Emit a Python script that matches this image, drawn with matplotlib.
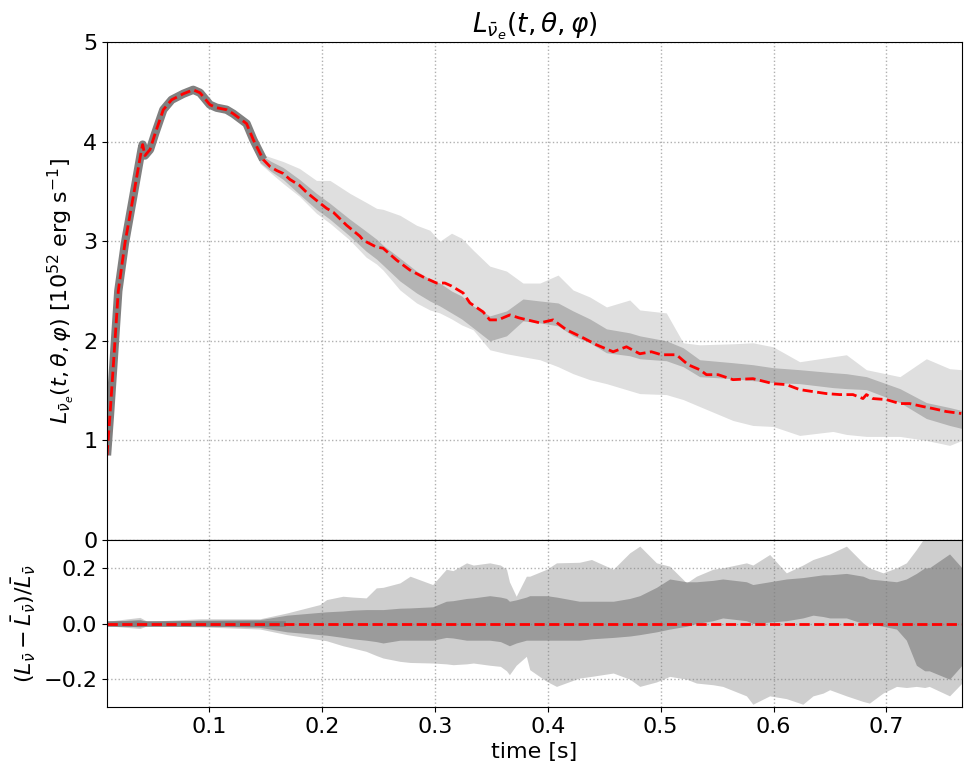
import numpy as np
import matplotlib
matplotlib.use("Agg")
import matplotlib.pyplot as plt

# ---------------- data ----------------
# angle-averaged luminosity (red dashed), 1e52 erg/s
t_mean = [0.0094, 0.012, 0.015, 0.0194, 0.0253, 0.0327, 0.040, 0.041, 0.043, 0.0475,
          0.052, 0.0593, 0.0667, 0.077, 0.0858, 0.0918, 0.1006, 0.1066, 0.1154, 0.1213,
          0.1331, 0.139, 0.1478, 0.1538, 0.1597, 0.1655, 0.1715, 0.18, 0.1863, 0.195,
          0.204, 0.21, 0.2217, 0.2335, 0.2364, 0.2483, 0.254, 0.266, 0.2778, 0.2896,
          0.3014, 0.3088, 0.3147, 0.325, 0.331, 0.3427, 0.3486, 0.356, 0.3664, 0.3745,
          0.393, 0.4047, 0.4166, 0.4313, 0.4431, 0.4579, 0.4697, 0.4815, 0.4918, 0.5007,
          0.514, 0.5243, 0.5346, 0.5406, 0.5509, 0.5641, 0.5818, 0.5996, 0.6114, 0.6232,
          0.6469, 0.6587, 0.6704, 0.6793, 0.6823, 0.6881, 0.70, 0.7118, 0.7206, 0.7324,
          0.7413, 0.7531, 0.7664]
L_mean = [0.85, 1.25, 1.75, 2.50, 2.98, 3.45, 3.92, 3.97, 3.86, 3.92,
          4.08, 4.32, 4.42, 4.48, 4.52, 4.49, 4.37, 4.34, 4.32, 4.28,
          4.18, 4.02, 3.82, 3.75, 3.71, 3.68, 3.62, 3.56, 3.49, 3.41,
          3.33, 3.29, 3.16, 3.05, 3.01, 2.94, 2.93, 2.81, 2.71, 2.64,
          2.58, 2.58, 2.55, 2.48, 2.38, 2.29, 2.21, 2.21, 2.26, 2.23,
          2.18, 2.21, 2.11, 2.03, 1.96, 1.89, 1.94, 1.87, 1.89, 1.86,
          1.86, 1.76, 1.71, 1.66, 1.66, 1.61, 1.62, 1.57, 1.56, 1.51,
          1.47, 1.46, 1.46, 1.42, 1.46, 1.42, 1.41, 1.37, 1.37, 1.34,
          1.32, 1.29, 1.27]

# spread of the individual directions (upper / lower envelope and dense core)
t_band = [0.13, 0.14, 0.145, 0.155, 0.1655, 0.18, 0.195, 0.207, 0.2247, 0.239,
          0.2483, 0.254, 0.269, 0.2837, 0.2955, 0.3043, 0.3147, 0.3236, 0.3339, 0.3486,
          0.3634, 0.378, 0.393, 0.4091, 0.4224, 0.4372, 0.452, 0.4726, 0.4815, 0.505,
          0.52, 0.5346, 0.5641, 0.5818, 0.5996, 0.6232, 0.6527, 0.6646, 0.6823, 0.712,
          0.7354, 0.7561, 0.767]
L_upper = [4.25, 4.06, 3.88, 3.84, 3.80, 3.73, 3.61, 3.61, 3.48, 3.39,
           3.33, 3.32, 3.26, 3.16, 3.11, 3.00, 3.08, 3.03, 2.91, 2.75,
           2.70, 2.58, 2.58, 2.66, 2.51, 2.44, 2.34, 2.41, 2.31, 2.28,
           1.98, 1.96, 1.97, 1.98, 1.94, 1.79, 1.84, 1.86, 1.71, 1.64,
           1.82, 1.72, 1.71]
L_lower = [4.15, 3.96, 3.78, 3.68, 3.58, 3.45, 3.28, 3.18, 3.01, 2.84,
           2.77, 2.71, 2.51, 2.38, 2.31, 2.28, 2.22, 2.16, 2.11, 1.91,
           1.87, 1.84, 1.81, 1.74, 1.67, 1.61, 1.57, 1.50, 1.47, 1.46,
           1.41, 1.34, 1.20, 1.15, 1.14, 1.05, 1.09, 1.06, 1.04, 1.04,
           1.00, 0.95, 1.00]
core_hi = [4.23, 4.04, 3.87, 3.80, 3.74, 3.62, 3.48, 3.38, 3.22, 3.10,
           3.02, 2.96, 2.83, 2.70, 2.62, 2.58, 2.50, 2.45, 2.35, 2.25,
           2.30, 2.42, 2.40, 2.38, 2.30, 2.22, 2.12, 2.08, 2.05, 2.00,
           1.93, 1.81, 1.78, 1.76, 1.73, 1.71, 1.68, 1.67, 1.64, 1.52,
           1.38, 1.33, 1.30]
core_lo = [4.17, 3.98, 3.79, 3.70, 3.62, 3.47, 3.32, 3.22, 3.05, 2.90,
           2.82, 2.76, 2.60, 2.48, 2.40, 2.35, 2.28, 2.22, 2.13, 2.00,
           2.05, 2.20, 2.18, 2.15, 2.05, 1.98, 1.88, 1.85, 1.82, 1.80,
           1.74, 1.64, 1.62, 1.60, 1.58, 1.57, 1.53, 1.52, 1.51, 1.38,
           1.22, 1.15, 1.12]

# relative deviation (L - <L>)/<L>
t_rel = [0.0094, 0.0386, 0.045, 0.092, 0.145, 0.169, 0.198, 0.204, 0.2185, 0.227,
         0.239, 0.248, 0.254, 0.269, 0.278, 0.298, 0.31, 0.316, 0.328, 0.334,
         0.3486, 0.358, 0.3634, 0.366, 0.372, 0.381, 0.384, 0.399, 0.4077, 0.428,
         0.4387, 0.458, 0.4726, 0.4815, 0.4963, 0.508, 0.5229, 0.5317, 0.5464, 0.555,
         0.576, 0.5817, 0.5966, 0.6114, 0.626, 0.635, 0.644, 0.6498, 0.6646, 0.6793,
         0.685, 0.697, 0.709, 0.7177, 0.7266, 0.734, 0.738, 0.756, 0.767]
rel_upper = [0.008, 0.022, 0.008, 0.017, 0.017, 0.038, 0.068, 0.086, 0.098, 0.095,
             0.092, 0.128, 0.130, 0.146, 0.170, 0.140, 0.195, 0.190, 0.218, 0.210,
             0.218, 0.210, 0.195, 0.150, 0.098, 0.170, 0.170, 0.195, 0.218, 0.220,
             0.230, 0.195, 0.254, 0.278, 0.218, 0.206, 0.146, 0.170, 0.195, 0.200,
             0.218, 0.210, 0.248, 0.182, 0.210, 0.230, 0.242, 0.250, 0.278, 0.218,
             0.200, 0.182, 0.200, 0.218, 0.266, 0.310, 0.310, 0.310, 0.310]
rel_lower = [-0.008, -0.018, -0.008, -0.012, -0.020, -0.040, -0.058, -0.062, -0.080, -0.088,
             -0.100, -0.115, -0.124, -0.136, -0.140, -0.142, -0.145, -0.148, -0.145, -0.142,
             -0.150, -0.154, -0.170, -0.184, -0.150, -0.118, -0.166, -0.208, -0.226, -0.196,
             -0.190, -0.178, -0.200, -0.226, -0.210, -0.190, -0.200, -0.214, -0.220, -0.226,
             -0.260, -0.290, -0.260, -0.270, -0.290, -0.260, -0.250, -0.238, -0.260, -0.280,
             -0.286, -0.250, -0.226, -0.230, -0.226, -0.230, -0.226, -0.260, -0.214]
rel_core_hi = [0.006, 0.015, 0.006, 0.012, 0.014, 0.030, 0.040, 0.042, 0.045, 0.048,
               0.050, 0.050, 0.050, 0.055, 0.056, 0.060, 0.080, 0.082, 0.090, 0.092,
               0.100, 0.095, 0.090, 0.080, 0.085, 0.095, 0.100, 0.100, 0.095, 0.080,
               0.080, 0.080, 0.090, 0.100, 0.130, 0.160, 0.150, 0.150, 0.155, 0.160,
               0.150, 0.140, 0.150, 0.160, 0.165, 0.170, 0.175, 0.175, 0.180, 0.170,
               0.160, 0.155, 0.150, 0.160, 0.180, 0.200, 0.200, 0.250, 0.200]
rel_core_lo = [-0.006, -0.012, -0.006, -0.008, -0.014, -0.030, -0.040, -0.042, -0.050, -0.055,
               -0.060, -0.065, -0.070, -0.060, -0.060, -0.060, -0.050, -0.052, -0.060, -0.060,
               -0.060, -0.065, -0.075, -0.080, -0.070, -0.060, -0.060, -0.060, -0.060, -0.060,
               -0.055, -0.050, -0.045, -0.040, -0.030, -0.020, -0.010, 0.000, 0.010, 0.020,
               0.010, 0.000, 0.005, 0.010, 0.020, 0.030, 0.025, 0.020, 0.020, 0.000,
               0.000, -0.010, -0.020, -0.060, -0.150, -0.170, -0.170, -0.200, -0.150]

x_ticks = [0.1, 0.2, 0.3, 0.4, 0.5, 0.6, 0.7]
y_ticks_top = [0, 1, 2, 3, 4, 5]
y_ticks_bot = [-0.2, 0.0, 0.2]

# ---------------- figure ----------------
plt.rcParams['font.size'] = 16
FS = 16
fig = plt.figure(figsize=(9.71, 7.72), dpi=100)
ax1 = fig.add_axes([0.1102, 0.3005, 0.8805, 0.6451])
ax2 = fig.add_axes([0.1102, 0.0842, 0.8805, 0.2163], sharex=ax1)

tm = np.array(t_mean)
Lm = np.array(L_mean)
early = tm <= 0.15

# top panel
ax1.fill_between(t_band, L_lower, L_upper, color='gray', alpha=0.25, lw=0)
ax1.fill_between(t_band, core_lo, core_hi, color='gray', alpha=0.45, lw=0)
ax1.plot(tm[early], Lm[early], color='gray', lw=6, solid_capstyle='butt')
ax1.plot(tm, Lm, color='red', ls='--', lw=2)

# bottom panel
rel_mean = (Lm - Lm) / Lm
ax2.fill_between(t_rel, rel_lower, rel_upper, color='gray', alpha=0.38, lw=0)
ax2.fill_between(t_rel, rel_core_lo, rel_core_hi, color='gray', alpha=0.65, lw=0)
ax2.plot(tm[tm <= 0.17], rel_mean[tm <= 0.17], color='gray', lw=4)
ax2.plot(tm, rel_mean, color='red', ls='--', lw=2)

xlim = (t_mean[0], t_mean[-1] + 0.0006)
for ax in (ax1, ax2):
    ax.grid(True, ls=':', color='#b0b0b0', lw=1)
    ax.set_axisbelow(True)
    ax.tick_params(labelsize=FS)
    ax.set_xlim(*xlim)
ax1.set_ylim(0, 5)
ax1.set_yticks(y_ticks_top)
ax2.set_ylim(-0.3, 0.3)
ax2.set_yticks(y_ticks_bot)
ax2.set_xticks(x_ticks)
plt.setp(ax1.get_xticklabels(), visible=False)

ax1.set_title(r'$L_{\bar{\nu}_e}(t,\theta,\varphi)$', fontsize=19)
ax1.set_ylabel(r'$L_{\bar{\nu}_e}(t,\theta,\varphi)$ [$10^{52}$ erg s$^{-1}$]', fontsize=FS)
ax2.set_ylabel(r'$(L_{\bar{\nu}}-\bar{L}_{\bar{\nu}})/\bar{L}_{\bar{\nu}}$', fontsize=FS)
ax2.set_xlabel('time [s]', fontsize=FS)

fig.savefig('out.png', dpi=100)
